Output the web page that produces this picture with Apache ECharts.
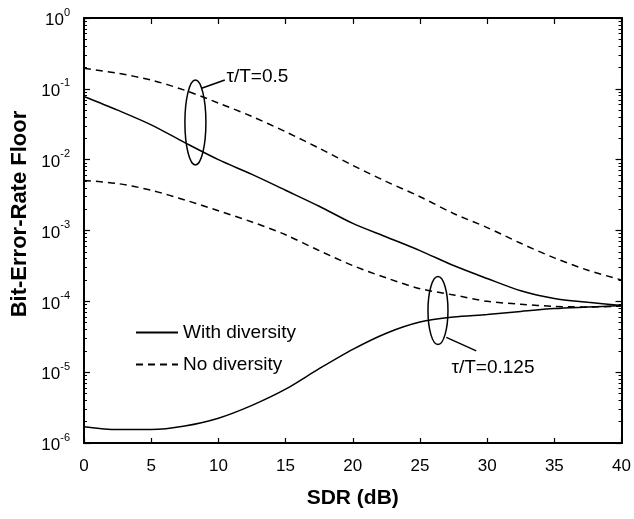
<!DOCTYPE html>
<html>
<head>
<meta charset="utf-8">
<script src="https://cdn.jsdelivr.net/npm/echarts@6/dist/echarts.min.js"></script>
<style>html,body{margin:0;padding:0;background:#fff}#c{width:634px;height:519px}</style>
</head>
<body>
<div id="c"></div>
<script>
// SDR (dB)
const xValues = [0, 2.5, 5, 7.5, 10, 12.5, 15, 17.5, 20, 22.5, 25, 27.5, 30, 32.5, 35, 37.5, 40];
// tau/T = 0.5, no diversity (dashed)
const noDiv05 = [0.195, 0.166, 0.133, 0.0955, 0.063, 0.0407, 0.0248, 0.0145, 0.0083, 0.0049, 0.0030, 0.00174, 0.0011, 0.00066, 0.00041, 0.000275, 0.0002];
// tau/T = 0.5, with diversity (solid)
const div05 = [0.078, 0.050, 0.031, 0.0174, 0.0100, 0.0062, 0.0037, 0.0022, 0.00126, 0.00081, 0.00052, 0.00032, 0.00021, 0.000141, 0.00011, 0.000097, 0.000087];
// tau/T = 0.125, no diversity (dashed)
const noDiv0125 = [0.0051, 0.0046, 0.0037, 0.0027, 0.0019, 0.00132, 0.00087, 0.00052, 0.00032, 0.000214, 0.000151, 0.000123, 0.0001, 0.000091, 0.000085, 0.000083, 0.000086];
// tau/T = 0.125, with diversity (solid)
const div0125 = [1.7e-6, 1.55e-6, 1.55e-6, 1.74e-6, 2.24e-6, 3.4e-6, 5.75e-6, 1.12e-5, 2.1e-5, 3.55e-5, 5.1e-5, 6.0e-5, 6.5e-5, 7.2e-5, 7.9e-5, 8.3e-5, 8.7e-5];

const seriesNames = ['With diversity', 'No diversity'];
const xTitle = 'SDR (dB)';
const yTitle = 'Bit-Error-Rate Floor';
const annot1 = 'τ/T=0.5';
const annot2 = 'τ/T=0.125';

const FONT = "'Liberation Sans', Arial, Helvetica, sans-serif";
const minorTicks = [];
for (let e = -6; e < 0; e++) for (let m = 2; m <= 9; m++) minorTicks.push(+(m * Math.pow(10, e)).toPrecision(3));

function pts(arr) { return xValues.map((x, i) => [x, arr[i]]); }

const chart = echarts.init(document.getElementById('c'), null, {renderer: 'canvas'});
const axisLine = {show: true, lineStyle: {color: '#000', width: 2}};
const baseY = {type: 'log', logBase: 10, min: 1e-6, max: 1, splitLine: {show: false}, axisLine: axisLine};

const lineCommon = {type: 'line', symbol: 'none', smooth: 0.3, xAxisIndex: 0, yAxisIndex: 0, silent: true};

chart.setOption({
  animation: false,
  backgroundColor: '#fff',
  textStyle: {fontFamily: FONT},
  grid: {left: 84, right: 12, top: 18, bottom: 76, containLabel: false},
  xAxis: [
    {type: 'value', min: 0, max: 40, interval: 5, position: 'bottom',
     name: xTitle, nameLocation: 'middle', nameGap: 45,
     nameTextStyle: {fontSize: 21, fontWeight: 'bold', color: '#000', fontFamily: FONT},
     axisLine: axisLine, axisTick: {inside: true, length: 5, lineStyle: {color: '#000', width: 1.2}},
     axisLabel: {fontSize: 17, color: '#000', margin: 15, fontFamily: FONT}, splitLine: {show: false}},
    {type: 'value', min: 0, max: 40, interval: 5, position: 'top',
     axisLine: axisLine, axisTick: {show: true, inside: true, length: 6, lineStyle: {color: '#000', width: 1.2}},
     axisLabel: {show: false}, splitLine: {show: false}}
  ],
  yAxis: [
    Object.assign({}, baseY, {position: 'left',
      axisTick: {inside: true, length: 6, lineStyle: {color: '#000', width: 1.2}},
      axisLabel: {margin: 14, color: '#000',
        formatter: function (v) { const e = Math.round(Math.log10(v)); return '{b|10}{s|' + e + '}'; },
        rich: {b: {fontSize: 17, fontFamily: FONT, color: '#000', verticalAlign: 'bottom', lineHeight: 22},
               s: {fontSize: 11, fontFamily: FONT, color: '#000', verticalAlign: 'top', lineHeight: 22}}}}),
    Object.assign({}, baseY, {position: 'left',
      axisTick: {inside: true, length: 3, customValues: minorTicks, lineStyle: {color: '#000', width: 1}},
      axisLabel: {show: false}}),
    Object.assign({}, baseY, {position: 'right',
      axisTick: {inside: true, length: 6, lineStyle: {color: '#000', width: 1.2}},
      axisLabel: {show: false}}),
    Object.assign({}, baseY, {position: 'right',
      axisTick: {inside: true, length: 3, customValues: minorTicks, lineStyle: {color: '#000', width: 1}},
      axisLabel: {show: false}})
  ],
  legend: {
    orient: 'vertical', left: 130, top: 318, itemWidth: 42, itemHeight: 12, itemGap: 13,
    data: seriesNames,
    itemStyle: {opacity: 0},
    textStyle: {fontSize: 19, color: '#000', fontFamily: FONT}
  },
  series: [
    Object.assign({}, lineCommon, {name: seriesNames[0], data: pts(div05), lineStyle: {color: '#000', width: 1.5, type: 'solid'}, itemStyle: {color: '#000'}}),
    Object.assign({}, lineCommon, {name: seriesNames[1], data: pts(noDiv05), lineStyle: {color: '#000', width: 1.5, type: [7, 5]}, itemStyle: {color: '#000'}}),
    Object.assign({}, lineCommon, {name: seriesNames[0], data: pts(div0125), lineStyle: {color: '#000', width: 1.5, type: 'solid'}, itemStyle: {color: '#000'}}),
    Object.assign({}, lineCommon, {name: seriesNames[1], data: pts(noDiv0125), lineStyle: {color: '#000', width: 1.5, type: [7, 5]}, itemStyle: {color: '#000'}})
  ]
});

function px(x, y) { return chart.convertToPixel({xAxisIndex: 0, yAxisIndex: 0}, [x, y]); }
const e1 = px(8.29, 0.0335), l1a = px(8.75, 0.102), l1b = px(10.48, 0.133), t1 = px(10.6, 0.147);
const e2 = px(26.34, 7.4e-5), l2a = px(26.96, 3.1e-5), l2b = px(29.19, 2.0e-5), t2 = px(27.34, 1.15e-5);
const stroke = {stroke: '#000', lineWidth: 1.5, fill: null};
chart.setOption({
  graphic: [
    {type: 'ellipse', shape: {cx: e1[0], cy: e1[1], rx: 10.5, ry: 42.5}, style: stroke, silent: true},
    {type: 'line', shape: {x1: l1a[0], y1: l1a[1], x2: l1b[0], y2: l1b[1]}, style: stroke, silent: true},
    {type: 'text', x: t1[0], y: t1[1], style: {text: annot1, font: '19px ' + FONT, fill: '#000', textAlign: 'left', textVerticalAlign: 'middle'}},
    {type: 'ellipse', shape: {cx: e2[0], cy: e2[1], rx: 10, ry: 34}, style: stroke, silent: true},
    {type: 'line', shape: {x1: l2a[0], y1: l2a[1], x2: l2b[0], y2: l2b[1]}, style: stroke, silent: true},
    {type: 'text', x: t2[0], y: t2[1], style: {text: annot2, font: '19px ' + FONT, fill: '#000', textAlign: 'left', textVerticalAlign: 'middle'}},
    {type: 'text', x: 20, y: 214, rotation: Math.PI / 2, style: {text: yTitle, font: 'bold 22px ' + FONT, fill: '#000', textAlign: 'center', textVerticalAlign: 'middle'}}
  ]
});
</script>
</body>
</html>
